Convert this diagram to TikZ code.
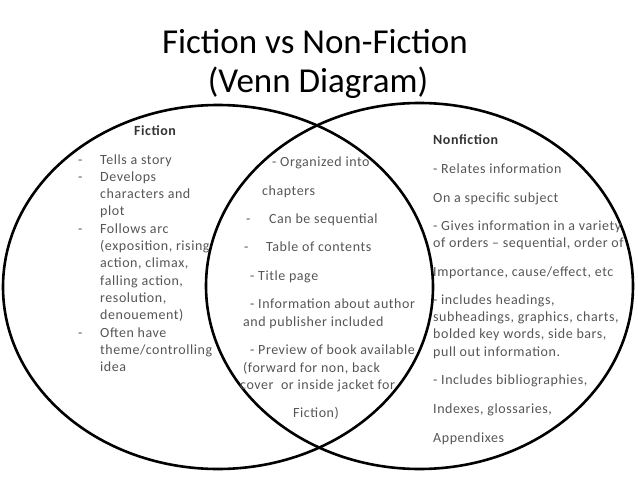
\documentclass[tikz,border=0pt]{standalone}
\usepackage{fontspec}
\setmainfont{Carlito}
\newfontfamily\bodyfont[LetterSpace=4]{Carlito}
\definecolor{bodygray}{RGB}{85,85,85}
\tikzset{
  venn/.style={line width=2.6pt},
  title/.style={font=\fontsize{35}{42}\selectfont, anchor=base, inner sep=0pt},
  head/.style={font=\bodyfont\fontsize{14}{17}\selectfont\bfseries, text=black!80, anchor=base, inner sep=0pt},
  body/.style={font=\bodyfont\fontsize{14}{17}\selectfont, text=bodygray, anchor=base west, inner sep=0pt},
}
\begin{document}
\begin{tikzpicture}[x=1pt,y=-1pt]
\useasboundingbox (0,0) rectangle (638,479);

\node[title] (title1) at (315,53) {Fiction vs Non-Fiction};
\node[title] (title2) at (318,92) {(Venn Diagram)};

\draw[venn] (218,287) ellipse [x radius=215, y radius=182];
\draw[venn] (419.5,286) ellipse [x radius=213.5, y radius=183];

% fiction side
\node[head] (fichead) at (155,135) {Fiction};
\foreach \t [count=\i] in {{Tells a story},{Develops},{characters and},{plot},
  {Follows arc},{(exposition, rising},{action, climax,},{falling action,},
  {resolution,},{denouement)},{Often have},{theme/controlling},{idea}}
  \node[body] (fic\i) at (100,{164+17.3*(\i-1)}) {\t};
\foreach \i in {1,2,5,11}
  \node[body] (ficdash\i) at (78,{164+17.3*(\i-1)}) {-};

% both
\foreach \x/\y/\t [count=\i] in {272/166/{- Organized into},262/195/{chapters},
  246/223/{-},269/223/{Can be sequential},244/251/{-},266/251/{Table of contents},
  250/280/{- Title page},250/308/{- Information about author},
  243/326/{and publisher included},250/354/{- Preview of book available},
  243/372/{(forward for non, back},240/389/{cover\ \ or inside jacket for},
  293/417/{Fiction)}}
  \node[body] (both\i) at (\x,\y) {\t};

% nonfiction side
\node[head, anchor=base west] (nonhead) at (433,144) {Nonfiction};
\foreach \y/\t [count=\i] in {173/{- Relates information},202/{On a specific subject},
  230/{- Gives information in a variety},247/{of orders – sequential, order of},
  276/{Importance, cause/effect, etc},304/{- includes headings,},
  321/{subheadings, graphics, charts,},338/{bolded key words, side bars,},
  356/{pull out information.},384/{- Includes bibliographies,},
  413/{Indexes, glossaries,},442/{Appendixes}}
  \node[body] (non\i) at (433,\y) {\t};

\end{tikzpicture}
\end{document}
